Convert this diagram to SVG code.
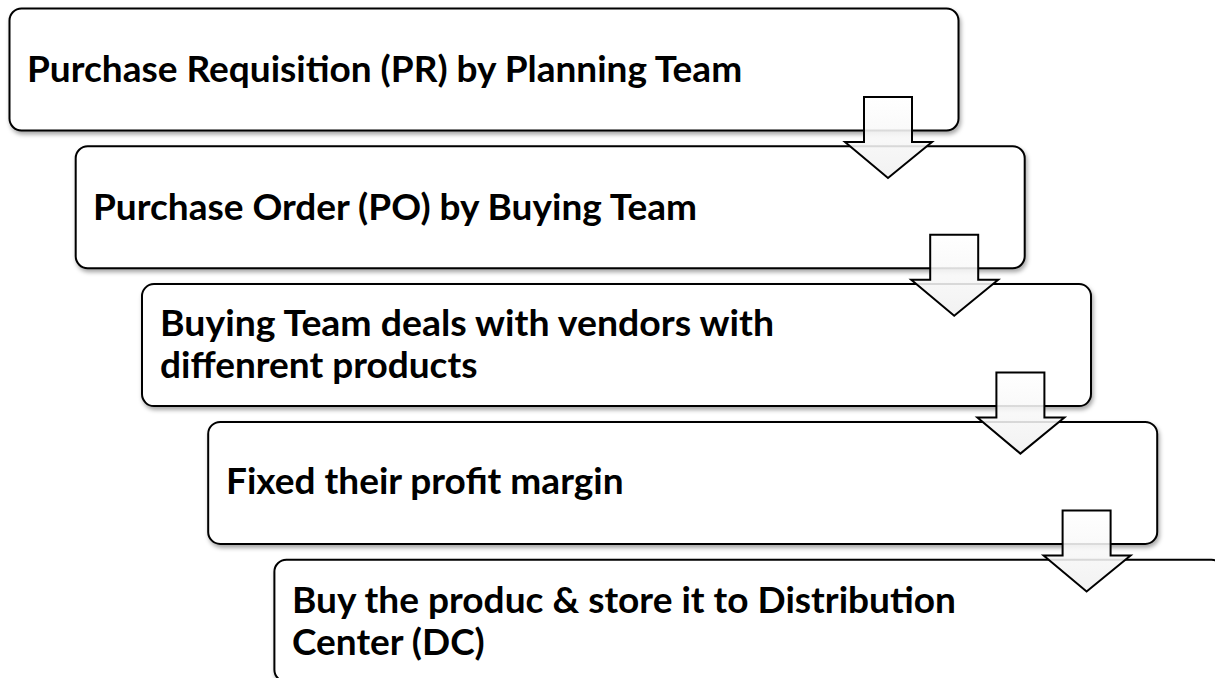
<svg xmlns="http://www.w3.org/2000/svg" width="1215" height="678" viewBox="0 0 1215 678">
<defs>
<filter id="sh" x="-5%" y="-10%" width="110%" height="130%">
<feDropShadow dx="1.5" dy="3" stdDeviation="2" flood-color="#000" flood-opacity="0.35"/>
</filter>
<linearGradient id="ag" x1="0" y1="0" x2="0" y2="1">
<stop offset="0" stop-color="#ffffff"/>
<stop offset="1" stop-color="#f0f0f0"/>
</linearGradient>
<path id="arr" d="M0,0 H48 V45 H68 L24,81 L-19,45 H0 Z"/>
</defs>
<style>
.box{fill:#fff;stroke:#000;stroke-width:2;filter:url(#sh)}
.t{font-family:Lato,"Open Sans","Liberation Sans",sans-serif;font-weight:bold;font-size:37px;fill:#000}
.a{fill:url(#ag);fill-opacity:0.88;stroke:#000;stroke-width:2;stroke-linejoin:miter}
</style>
<rect width="1215" height="678" fill="#fff"/>
<g id="node1">
<rect class="box" x="9.5" y="8.5" width="949" height="122" rx="12"/>
<text class="t" x="27" y="82">Purchase Requisition (PR) by Planning Team</text>
</g>
<g id="node2">
<rect class="box" x="75.7" y="146.3" width="949" height="122" rx="12"/>
<text class="t" x="93" y="220">Purchase Order (PO) by Buying Team</text>
</g>
<g id="node3">
<rect class="box" x="142" y="284.1" width="949" height="122" rx="12"/>
<text class="t" x="160" y="336" textLength="614" lengthAdjust="spacingAndGlyphs">Buying Team deals with vendors with</text>
<text class="t" x="160" y="378">diffenrent products</text>
</g>
<g id="node4">
<rect class="box" x="208.2" y="421.9" width="949" height="122" rx="12"/>
<text class="t" x="226" y="494">Fixed their profit margin</text>
</g>
<g id="node5">
<rect class="box" x="274.4" y="559.7" width="949" height="122" rx="12"/>
<text class="t" x="292" y="613" textLength="664" lengthAdjust="spacingAndGlyphs">Buy the produc &amp; store it to Distribution</text>
<text class="t" x="292" y="655">Center (DC)</text>
</g>
<g id="connectors">
<use href="#arr" class="a" x="864" y="97"/>
<use href="#arr" class="a" x="930.2" y="234.8"/>
<use href="#arr" class="a" x="996.4" y="372.6"/>
<use href="#arr" class="a" x="1062.6" y="510.4"/>
</g>
</svg>
